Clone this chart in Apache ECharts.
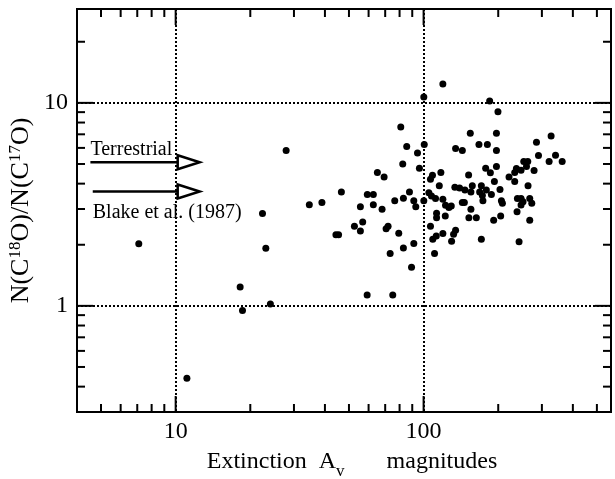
<!DOCTYPE html>
<html>
<head>
<meta charset="utf-8">
<script src="https://cdn.jsdelivr.net/npm/echarts@6/dist/echarts.min.js"></script>
<style>
  html, body { margin: 0; padding: 0; background: #fff; }
  #chart { width: 615px; height: 479px; }
</style>
</head>
<body>
<div id="chart"></div>
<script>
// Visual extinction A_v (magnitudes) of each line of sight
const extinction = [
  7.1, 11.1, 18.2, 18.6, 22.4, 23.1, 24.1, 27.9,
  34.6, 38.9, 44.3, 45.4, 46.6, 52.6, 55.6, 55.6, 56.8, 59.3, 59.2, 62.7,
  62.7, 65.1, 68.0, 69.3, 70.6, 71.9, 73.3, 75.1, 76.5, 79.4,
  80.9, 82.4, 82.9, 82.9, 85.5, 87.7, 89.4, 91.3, 91.3, 93.0,
  94.5, 96.2, 100.2, 100.6, 100.2, 105.0, 106.6, 106.6, 107.6, 108.6,
  108.9, 110.7, 111.7, 112.5, 112.8, 112.8, 115.7, 117.4, 119.6, 119.6,
  119.6, 122.3, 122.6, 126.5, 129.3, 129.7, 132.1, 133.7, 134.6, 134.6,
  139.7, 143.3, 143.3, 146.0, 146.8, 151.9, 152.3, 154.3, 155.2, 155.2,
  157.2, 163.2, 167.2, 168.3, 171.0, 171.0, 172.6, 173.5, 178.0, 179.1,
  180.8, 184.7, 185.9, 187.7, 191.7, 193.0, 196.7, 196.7, 196.7, 199.5,
  203.3, 204.6, 206.0, 207.9, 221.1, 233.1, 233.1, 236.8, 238.2, 239.0,
  242.7, 247.2, 247.2, 247.2, 251.8, 253.5, 260.0, 263.1, 263.8, 268.0,
  268.0, 273.1, 279.0, 285.3, 290.7, 320.8, 326.8, 340.5, 362.2
];
// Column density ratio N(C18O)/N(C17O) for the same lines of sight
const ratio = [
  2.02, 0.44, 1.24, 0.95, 2.85, 1.92, 1.02, 5.83,
  3.15, 3.23, 2.24, 2.24, 3.64, 2.47, 3.08, 2.34, 2.59, 3.54, 1.13, 3.54,
  3.15, 4.54, 2.99, 4.31, 2.40, 2.47, 1.81, 1.13, 3.29, 2.28,
  7.61, 5.00, 3.39, 1.93, 6.09, 3.64, 1.55, 3.29, 2.03, 3.08,
  5.67, 4.76, 10.7, 6.23, 3.29, 3.61, 4.20, 2.47, 3.48, 4.40,
  2.13, 1.81, 3.38, 2.21, 2.86, 2.72, 3.91, 4.54, 12.4, 3.35,
  2.27, 2.77, 3.13, 3.05, 3.10, 2.08, 2.25, 3.84, 5.96, 2.36,
  3.81, 5.83, 3.23, 3.23, 3.72, 4.41, 2.72, 7.09, 3.64, 2.99,
  3.91, 2.72, 6.23, 3.64, 3.91, 2.13, 3.50, 3.29, 4.76, 3.72,
  6.23, 10.2, 4.52, 3.54, 2.64, 4.10, 7.09, 5.83, 4.86, 9.03,
  3.74, 2.77, 3.29, 3.20, 4.31, 4.54, 4.10, 4.75, 2.91, 3.38,
  2.07, 4.66, 3.38, 3.14, 3.26, 5.14, 4.86, 5.14, 3.91, 3.38,
  2.64, 3.20, 4.64, 6.40, 5.50, 5.14, 6.87, 5.52, 5.14
];

// Reference ratios marked with arrows
const referenceLabels = ['Terrestrial', 'Blake et al. (1987)'];
const referenceRatio = [5.1, 3.66];
const arrowFrom = [4.53, 4.63];
const arrowTo = [12.5, 12.5];

// Axis ranges and tick positions
const X_RANGE = [4, 570];
const Y_RANGE = [0.3, 29];
const xMajorTicks = [10, 100];
const xMinorTicks = [5, 6, 7, 8, 9, 20, 30, 40, 50, 60, 70, 80, 90, 200, 300, 400, 500];
const yMajorTicks = [1, 10];
const yMinorTicks = [0.4, 0.5, 0.6, 0.7, 0.8, 0.9, 2, 3, 4, 5, 6, 7, 8, 9, 20];

const FONT = '"Liberation Serif", "Times New Roman", serif';

const points = extinction.map((x, i) => [x, ratio[i]]);

// tick items: [x, y, kind]  kind 0/1 = x minor/major, 2/3 = y minor/major
const tickData = [];
xMinorTicks.forEach(v => tickData.push([v, Y_RANGE[0], 0]));
xMajorTicks.forEach(v => tickData.push([v, Y_RANGE[0], 1]));
yMinorTicks.forEach(v => tickData.push([X_RANGE[0], v, 2]));
yMajorTicks.forEach(v => tickData.push([X_RANGE[0], v, 3]));

const arrowData = referenceRatio.map((r, i) => [arrowFrom[i], r, arrowTo[i]]);

function powerOfTenLabel(v) {
  const l = Math.log10(v);
  return Math.abs(l - Math.round(l)) < 1e-6 ? String(Math.round(v)) : '';
}

// inward ticks mirrored on all four sides of the frame
function renderTick(params, api) {
  const cs = params.coordSys;
  const kind = api.value(2);
  const p = api.coord([api.value(0), api.value(1)]);
  const len = (kind === 1 || kind === 3) ? 16 : 8;
  const style = { stroke: '#000', lineWidth: 2 };
  if (kind < 2) {
    const x = p[0];
    const yb = cs.y + cs.height, yt = cs.y;
    return { type: 'group', children: [
      { type: 'line', shape: { x1: x, y1: yb, x2: x, y2: yb - len }, style },
      { type: 'line', shape: { x1: x, y1: yt, x2: x, y2: yt + len }, style }
    ] };
  }
  const y = p[1];
  const xl = cs.x, xr = cs.x + cs.width;
  return { type: 'group', children: [
    { type: 'line', shape: { x1: xl, y1: y, x2: xl + len, y2: y }, style },
    { type: 'line', shape: { x1: xr, y1: y, x2: xr - len, y2: y }, style }
  ] };
}

// horizontal arrow with an open head and its caption
function renderArrow(params, api) {
  const i = params.dataIndex;
  const start = api.coord([api.value(0), api.value(1)]);
  const tip = api.coord([api.value(2), api.value(1)]);
  const head = 22, half = 7;
  const y = start[1];
  const baseX = tip[0] - head;
  const above = i === 0;
  return { type: 'group', children: [
    { type: 'line', shape: { x1: start[0], y1: y, x2: baseX, y2: y },
      style: { stroke: '#000', lineWidth: 2.5 } },
    { type: 'polygon', shape: { points: [[baseX, y - half], [tip[0], y], [baseX, y + half]] },
      style: { fill: '#fff', stroke: '#000', lineWidth: 2.5 } },
    { type: 'text', x: start[0], y: above ? y - 2 : y + 11,
      style: { text: referenceLabels[i], fill: '#000', fontSize: 20, fontFamily: FONT,
               align: 'left', verticalAlign: above ? 'bottom' : 'top' } }
  ] };
}

const chart = echarts.init(document.getElementById('chart'), null, { renderer: 'canvas' });

const gridLine = { show: true, lineStyle: { color: '#000', width: 2, type: [2, 2] } };

chart.setOption({
  animation: false,
  backgroundColor: '#fff',
  grid: {
    left: 77, right: 4, top: 9, bottom: 67,
    show: true, borderColor: '#000', borderWidth: 2, backgroundColor: 'transparent',
    outerBoundsMode: 'none'
  },
  xAxis: {
    type: 'log', logBase: 10, min: X_RANGE[0], max: X_RANGE[1],
    axisLine: { show: false },
    axisTick: { show: false },
    minorTick: { show: false },
    splitLine: gridLine,
    axisLabel: { formatter: powerOfTenLabel, color: '#000', fontFamily: FONT, fontSize: 24, margin: 8 },
    name: '{t|Extinction  A}{v|v}{t|       magnitudes}',
    nameLocation: 'middle',
    nameGap: 38,
    nameMoveOverlap: false,
    nameTextStyle: {
      color: '#000', fontFamily: FONT, fontSize: 24, padding: [0, 0, 0, 16],
      rich: {
        t: { fontSize: 24, fontFamily: FONT, color: '#000', lineHeight: 24, verticalAlign: 'top' },
        v: { fontSize: 17, fontFamily: FONT, color: '#000', lineHeight: 17,
             padding: [13, 0, 0, 0], verticalAlign: 'top' }
      }
    }
  },
  yAxis: {
    type: 'log', logBase: 10, min: Y_RANGE[0], max: Y_RANGE[1],
    axisLine: { show: false },
    axisTick: { show: false },
    minorTick: { show: false },
    splitLine: gridLine,
    axisLabel: { formatter: powerOfTenLabel, color: '#000', fontFamily: FONT, fontSize: 24, margin: 9 },
    name: '{n|N(C}{s|18}{n|O)/N(C}{s|17}{n|O)}',
    nameLocation: 'middle',
    nameGap: 42,
    nameMoveOverlap: false,
    nameTextStyle: {
      color: '#000', fontFamily: FONT, fontSize: 26,
      rich: {
        n: { fontSize: 26, fontFamily: FONT, color: '#000', lineHeight: 28, verticalAlign: 'middle' },
        s: { fontSize: 17, fontFamily: FONT, color: '#000', lineHeight: 17, verticalAlign: 'top' }
      }
    }
  },
  series: [
    {
      type: 'custom', name: 'ticks', data: tickData, renderItem: renderTick,
      silent: true, z: 3, clip: false
    },
    {
      type: 'custom', name: 'reference', data: arrowData, renderItem: renderArrow,
      silent: true, z: 4, clip: false
    },
    {
      type: 'scatter', name: 'sources', data: points,
      symbol: 'circle', symbolSize: 7,
      itemStyle: { color: '#000', opacity: 1 },
      silent: true, z: 5
    }
  ]
});
</script>
</body>
</html>
